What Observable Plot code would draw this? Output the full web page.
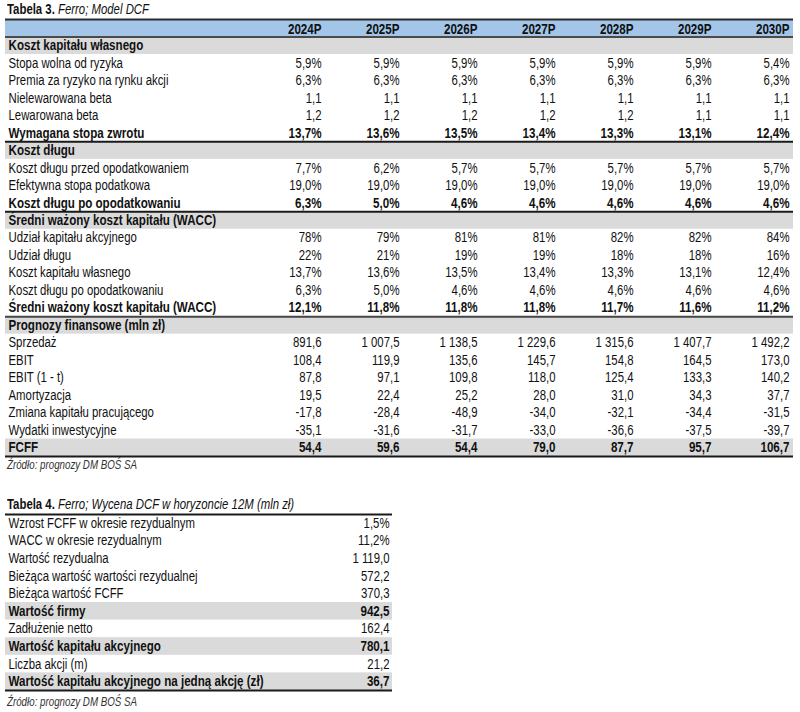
<!DOCTYPE html>
<html><head><meta charset="utf-8">
<script src="https://cdn.jsdelivr.net/npm/d3@7"></script>
<script src="https://cdn.jsdelivr.net/npm/@observablehq/plot@0.6"></script>
<style>
body{margin:0;background:#fff;}
#page{position:relative;width:800px;height:712px;font-family:"Liberation Sans",Arial,sans-serif;color:#111;}
.title{position:absolute;left:7px;font-size:14px;line-height:17px;white-space:nowrap;transform-origin:0 50%;}
.title b{font-weight:bold;}
.title i{font-style:italic;}
.src{position:absolute;left:7px;font-size:12px;line-height:16px;font-style:italic;color:#333;white-space:nowrap;transform-origin:0 50%;}
.chart{position:absolute;left:0;}
</style></head>
<body><div id="page">
<div class="title" style="top:1px"><b>Tabela 3.</b> <i>Ferro; Model DCF</i></div>
<div class="chart" id="t3" style="top:17px"></div>
<div class="src" style="top:457px">Źródło: prognozy DM BOŚ SA</div>
<div class="title" style="top:496px"><b>Tabela 4.</b> <i>Ferro; Wycena DCF w horyzoncie 12M (mln zł)</i></div>
<div class="chart" id="t4" style="top:512px"></div>
<div class="src" style="top:694px">Źródło: prognozy DM BOŚ SA</div>
</div>
<script>
// ---------- Table 3 data ----------
const years = ["2024P","2025P","2026P","2027P","2028P","2029P","2030P"];
const stopaWolna      = [5.9,5.9,5.9,5.9,5.9,5.9,5.4];
const premiaRyzyka    = [6.3,6.3,6.3,6.3,6.3,6.3,6.3];
const betaNielew      = [1.1,1.1,1.1,1.1,1.1,1.1,1.1];
const betaLew         = [1.2,1.2,1.2,1.2,1.2,1.1,1.1];
const wymaganaStopa   = [13.7,13.6,13.5,13.4,13.3,13.1,12.4];
const kosztDluguPrzed = [7.7,6.2,5.7,5.7,5.7,5.7,5.7];
const stopaPodatkowa  = [19.0,19.0,19.0,19.0,19.0,19.0,19.0];
const kosztDluguPo    = [6.3,5.0,4.6,4.6,4.6,4.6,4.6];
const udzialKapitalu  = [78,79,81,81,82,82,84];
const udzialDlugu     = [22,21,19,19,18,18,16];
const kosztKapitalu   = [13.7,13.6,13.5,13.4,13.3,13.1,12.4];
const kosztDluguPo2   = [6.3,5.0,4.6,4.6,4.6,4.6,4.6];
const wacc            = [12.1,11.8,11.8,11.8,11.7,11.6,11.2];
const sprzedaz        = [891.6,1007.5,1138.5,1229.6,1315.6,1407.7,1492.2];
const ebit            = [108.4,119.9,135.6,145.7,154.8,164.5,173.0];
const ebitNet         = [87.8,97.1,109.8,118.0,125.4,133.3,140.2];
const amortyzacja     = [19.5,22.4,25.2,28.0,31.0,34.3,37.7];
const zmianaKP        = [-17.8,-28.4,-48.9,-34.0,-32.1,-34.4,-31.5];
const wydatkiInw      = [-35.1,-31.6,-31.7,-33.0,-36.6,-37.5,-39.7];
const fcff            = [54.4,59.6,54.4,79.0,87.7,95.7,106.7];

const t3Labels = ["Koszt kapitału własnego","Stopa wolna od ryzyka","Premia za ryzyko na rynku akcji","Nielewarowana beta","Lewarowana beta","Wymagana stopa zwrotu","Koszt długu","Koszt długu przed opodatkowaniem","Efektywna stopa podatkowa","Koszt długu po opodatkowaniu","Średni ważony koszt kapitału (WACC)","Udział kapitału akcyjnego","Udział długu","Koszt kapitału własnego","Koszt długu po opodatkowaniu","Średni ważony koszt kapitału (WACC)","Prognozy finansowe (mln zł)","Sprzedaż","EBIT","EBIT (1 - t)","Amortyzacja","Zmiana kapitału pracującego","Wydatki inwestycyjne","FCFF"];
const t3Series = [null,stopaWolna,premiaRyzyka,betaNielew,betaLew,wymaganaStopa,null,kosztDluguPrzed,stopaPodatkowa,kosztDluguPo,null,udzialKapitalu,udzialDlugu,kosztKapitalu,kosztDluguPo2,wacc,null,sprzedaz,ebit,ebitNet,amortyzacja,zmianaKP,wydatkiInw,fcff];
const t3Formats = ["","pct","pct","num","num","pct","","pct","pct","pct","","pct0","pct0","pct","pct","pct","","num","num","num","num","num","num","num"];
const t3Kinds = ["section","normal","normal","normal","normal","bold","section","normal","normal","bold","section","normal","normal","normal","normal","bold","section","normal","normal","normal","normal","normal","normal","total"];
const t3RulesAfter = [0,6,10,16,24];

// ---------- Table 4 data ----------
const t4Labels = ["Wzrost FCFF w okresie rezydualnym","WACC w okresie rezydualnym","Wartość rezydualna","Bieżąca wartość wartości rezydualnej","Bieżąca wartość FCFF","Wartość firmy","Zadłużenie netto","Wartość kapitału akcyjnego","Liczba akcji (m)","Wartość kapitału akcyjnego na jedną akcję (zł)"];
const t4Values = [1.5,11.2,1119.0,572.2,370.3,942.5,162.4,780.1,21.2,36.7];
const t4Formats = ["pct","pct","num","num","num","num","num","num","num","num"];
const t4Kinds = ["normal","normal","normal","normal","normal","total","normal","total","normal","total"];

// ---------- formatting ----------
const loc = d3.formatLocale({decimal: ",", thousands: "\u00a0", grouping: [3], currency: ["", ""], minus: "-"});
const f1 = loc.format(",.1f"), f0 = loc.format(".0f");
const fmt = (v, k) => k === "pct" ? f1(v) + "%" : k === "pct0" ? f0(v) + "%" : f1(v);

const FONT = '"Liberation Sans", Arial, sans-serif';
const BLUE = "#a2c5e8", GRAY = "#dadada", INK = "#111";

// narrow-font emulation: horizontal factors measured at runtime
const ctx = document.createElement("canvas").getContext("2d");
function measure(str, font) { ctx.font = font; return ctx.measureText(str).width; }
let kReg = 189 / measure("Bieżąca wartość wartości rezydualnej", `14px ${FONT}`);
let kBold = 255 / measure("Wartość kapitału akcyjnego na jedną akcję (zł)", `bold 14px ${FONT}`);
if (!isFinite(kReg) || kReg <= 0 || kReg > 1.5) kReg = 0.82;
if (!isFinite(kBold) || kBold <= 0 || kBold > 1.5) kBold = 0.82;

function condense(svg) {
  svg.querySelectorAll("text").forEach(el => {
    const w = parseInt(getComputedStyle(el).fontWeight) || 400;
    const k = w >= 600 ? kBold : kReg;
    let len = 0;
    try { len = el.getComputedTextLength(); } catch (e) { len = 0; }
    if (len > 0) {
      el.setAttribute("textLength", (len * k).toFixed(2));
      el.setAttribute("lengthAdjust", "spacingAndGlyphs");
    }
  });
}

// ---------- build Table 3 ----------
const rows3 = t3Labels.map((label, j) => ({i: j + 1, label, kind: t3Kinds[j]}));
const header3 = [{i: 0}];
const cells3 = [];
t3Series.forEach((s, j) => {
  if (!s) return;
  s.forEach((v, c) => cells3.push({i: j + 1, year: years[c], text: fmt(v, t3Formats[j]), bold: t3Kinds[j] !== "normal"}));
});
const yearCells = years.map(y => ({i: 0, year: y}));
const rules3 = [{b: 0, w: 2, c: "#2a2a2a"}].concat(t3RulesAfter.map(r => ({b: r + 1, w: r === 0 ? 1.5 : 2, c: r === 16 ? "#444" : "#1a1a1a"})));

const H3 = 441, N3 = 25;
const plot3 = Plot.plot({
  width: 800, height: H3,
  marginTop: 2, marginBottom: 2, marginLeft: 5, marginRight: 7,
  style: {fontFamily: FONT, fontSize: "14px", color: INK, background: "transparent"},
  x: {type: "point", domain: years, range: [318, 791], padding: 0, axis: null},
  y: {type: "linear", domain: [0, N3], range: [2, H3 - 2], axis: null},
  marks: [
    Plot.rect(header3, {y1: d => d.i, y2: d => d.i + 1, fill: BLUE}),
    Plot.rect(rows3.filter(d => d.kind === "section" || d.kind === "total"), {y1: d => d.i, y2: d => d.i + 1, fill: GRAY}),
    Plot.ruleY(rules3, {y: "b", stroke: "c", strokeWidth: "w"}),
    Plot.text(yearCells, {x: "year", y: d => d.i + 0.5, text: "year", textAnchor: "end", fontWeight: "bold", fill: INK, dy: 1}),
    Plot.text(rows3.filter(d => d.kind === "normal"), {y: d => d.i + 0.5, text: "label", frameAnchor: "left", textAnchor: "start", dx: 3, fill: INK}),
    Plot.text(rows3.filter(d => d.kind !== "normal"), {y: d => d.i + 0.5, text: "label", frameAnchor: "left", textAnchor: "start", dx: 3, fontWeight: "bold", fill: INK}),
    Plot.text(cells3.filter(d => !d.bold), {x: "year", y: d => d.i + 0.5, text: "text", textAnchor: "end", fill: INK}),
    Plot.text(cells3.filter(d => d.bold), {x: "year", y: d => d.i + 0.5, text: "text", textAnchor: "end", fontWeight: "bold", fill: INK})
  ]
});
document.getElementById("t3").appendChild(plot3);
condense(plot3);

// ---------- build Table 4 ----------
const rows4 = t4Labels.map((label, j) => ({i: j, label, text: fmt(t4Values[j], t4Formats[j]), kind: t4Kinds[j]}));
const rules4 = [{b: 0}, {b: t4Labels.length}];
const H4 = 180, N4 = t4Labels.length;
const plot4 = Plot.plot({
  width: 400, height: H4,
  marginTop: 2, marginBottom: 2, marginLeft: 5, marginRight: 8,
  style: {fontFamily: FONT, fontSize: "14px", color: INK, background: "transparent"},
  y: {type: "linear", domain: [0, N4], range: [2, H4 - 2], axis: null},
  marks: [
    Plot.rect(rows4.filter(d => d.kind === "total"), {y1: d => d.i, y2: d => d.i + 1, fill: GRAY}),
    Plot.ruleY(rules4, {y: "b", stroke: "#1a1a1a", strokeWidth: 2}),
    Plot.text(rows4.filter(d => d.kind === "normal"), {y: d => d.i + 0.5, text: "label", frameAnchor: "left", textAnchor: "start", dx: 3, fill: INK}),
    Plot.text(rows4.filter(d => d.kind !== "normal"), {y: d => d.i + 0.5, text: "label", frameAnchor: "left", textAnchor: "start", dx: 3, fontWeight: "bold", fill: INK}),
    Plot.text(rows4.filter(d => d.kind === "normal"), {y: d => d.i + 0.5, text: "text", frameAnchor: "right", textAnchor: "end", dx: -3, fill: INK}),
    Plot.text(rows4.filter(d => d.kind !== "normal"), {y: d => d.i + 0.5, text: "text", frameAnchor: "right", textAnchor: "end", dx: -3, fontWeight: "bold", fill: INK})
  ]
});
document.getElementById("t4").appendChild(plot4);
condense(plot4);

// condense HTML titles / sources the same way
document.querySelectorAll(".title, .src").forEach(el => { el.style.transform = `scaleX(${kReg})`; });
</script>
</body></html>
